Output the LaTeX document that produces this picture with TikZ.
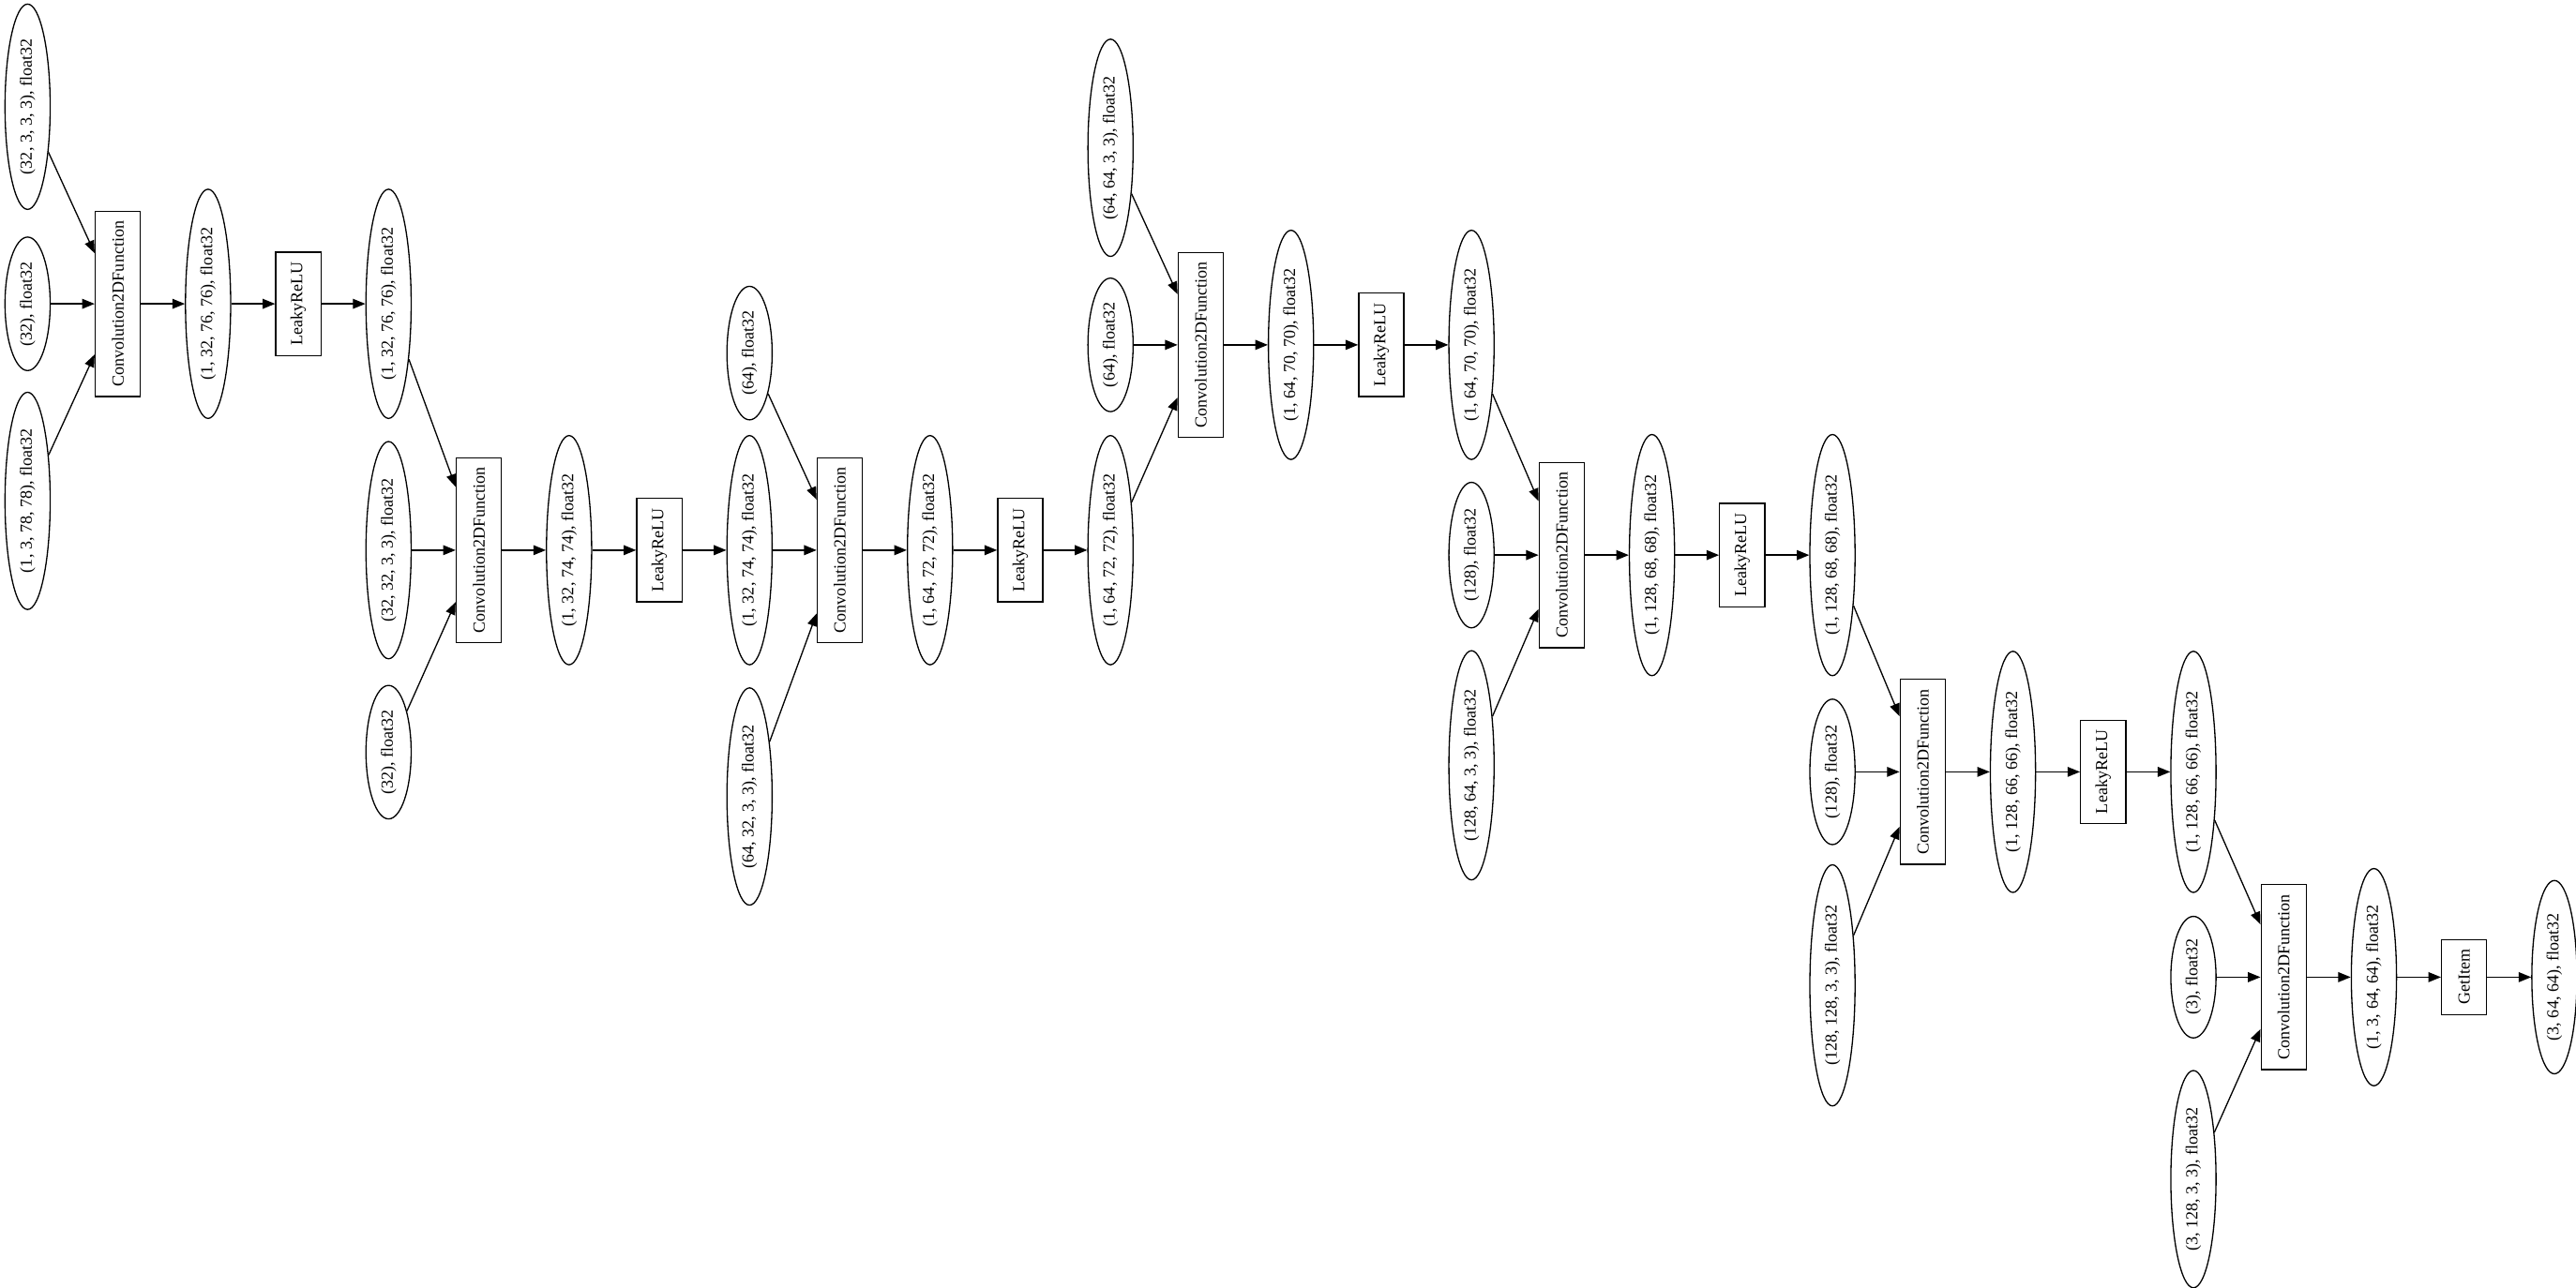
\documentclass[tikz,border=0pt]{standalone}
\usepackage{fontspec}
\setmainfont{Liberation Serif}
\usetikzlibrary{arrows.meta,shapes.geometric}
\begin{document}
\begin{tikzpicture}[x=1pt,y=-1pt,
  base/.style={draw=black, line width=0.75pt, rotate=90, font=\fontsize{10.3}{12}\selectfont,
    minimum height=27.5pt, minimum width=41pt, inner ysep=2pt},
  val/.style={base, ellipse, inner xsep=3pt},
  op/.style={base, rectangle, inner xsep=6pt},
  edge/.style={draw=black, line width=0.75pt, -{Triangle[length=7.6pt,width=6pt]}}]
\useasboundingbox (0,0) rectangle (1568,784);
\def\cx#1{16.8+54.93*#1}
% chain 1
\node[val] (e1) at ({\cx{0}},65) {(32, 3, 3, 3), float32};
\node[val] (e2) at ({\cx{0}},185) {(32), float32};
\node[val] (e3) at ({\cx{0}},305) {(1, 3, 78, 78), float32};
\node[op] (c1) at ({\cx{1}},185) {Convolution2DFunction};
\node[val] (e4) at ({\cx{2}},185) {(1, 32, 76, 76), float32};
\node[op] (l1) at ({\cx{3}},185) {LeakyReLU};
\node[val] (e5) at ({\cx{4}},185) {(1, 32, 76, 76), float32};
% chain 2
\node[val] (e6) at ({\cx{4}},335) {(32, 32, 3, 3), float32};
\node[val] (e7) at ({\cx{4}},458) {(32), float32};
\node[op] (c2) at ({\cx{5}},335) {Convolution2DFunction};
\node[val] (e8) at ({\cx{6}},335) {(1, 32, 74, 74), float32};
\node[op] (l2) at ({\cx{7}},335) {LeakyReLU};
\node[val] (e9) at ({\cx{8}},335) {(1, 32, 74, 74), float32};
% chain 3
\node[val] (e10) at ({\cx{8}},215) {(64), float32};
\node[val] (e11) at ({\cx{8}},485) {(64, 32, 3, 3), float32};
\node[op] (c3) at ({\cx{9}},335) {Convolution2DFunction};
\node[val] (e12) at ({\cx{10}},335) {(1, 64, 72, 72), float32};
\node[op] (l3) at ({\cx{11}},335) {LeakyReLU};
\node[val] (e13) at ({\cx{12}},335) {(1, 64, 72, 72), float32};
% chain 4
\node[val] (e14) at ({\cx{12}},90) {(64, 64, 3, 3), float32};
\node[val] (e15) at ({\cx{12}},210) {(64), float32};
\node[op] (c4) at ({\cx{13}},210) {Convolution2DFunction};
\node[val] (e16) at ({\cx{14}},210) {(1, 64, 70, 70), float32};
\node[op] (l4) at ({\cx{15}},210) {LeakyReLU};
\node[val] (e17) at ({\cx{16}},210) {(1, 64, 70, 70), float32};
% chain 5
\node[val] (e18) at ({\cx{16}},338) {(128), float32};
\node[val] (e19) at ({\cx{16}},466) {(128, 64, 3, 3), float32};
\node[op] (c5) at ({\cx{17}},338) {Convolution2DFunction};
\node[val] (e20) at ({\cx{18}},338) {(1, 128, 68, 68), float32};
\node[op] (l5) at ({\cx{19}},338) {LeakyReLU};
\node[val] (e21) at ({\cx{20}},338) {(1, 128, 68, 68), float32};
% chain 6
\node[val] (e22) at ({\cx{20}},470) {(128), float32};
\node[val] (e23) at ({\cx{20}},600) {(128, 128, 3, 3), float32};
\node[op] (c6) at ({\cx{21}},470) {Convolution2DFunction};
\node[val] (e24) at ({\cx{22}},470) {(1, 128, 66, 66), float32};
\node[op] (l6) at ({\cx{23}},470) {LeakyReLU};
\node[val] (e25) at ({\cx{24}},470) {(1, 128, 66, 66), float32};
% chain 7
\node[val] (e26) at ({\cx{24}},595) {(3), float32};
\node[val] (e27) at ({\cx{24}},718) {(3, 128, 3, 3), float32};
\node[op] (c7) at ({\cx{25}},595) {Convolution2DFunction};
\node[val] (e28) at ({\cx{26}},595) {(1, 3, 64, 64), float32};
\node[op] (g) at ({\cx{27}},595) {GetItem};
\node[val] (e29) at ({\cx{28}},595) {(3, 64, 64), float32};
% edges
\foreach \a/\b in {e1/c1,e2/c1,e3/c1,c1/e4,e4/l1,l1/e5,
  e5/c2,e6/c2,e7/c2,c2/e8,e8/l2,l2/e9,
  e9/c3,e10/c3,e11/c3,c3/e12,e12/l3,l3/e13,
  e13/c4,e14/c4,e15/c4,c4/e16,e16/l4,l4/e17,
  e17/c5,e18/c5,e19/c5,c5/e20,e20/l5,l5/e21,
  e21/c6,e22/c6,e23/c6,c6/e24,e24/l6,l6/e25,
  e25/c7,e26/c7,e27/c7,c7/e28,e28/g,g/e29}
  \draw[edge] (\a) -- (\b);
\end{tikzpicture}
\end{document}
